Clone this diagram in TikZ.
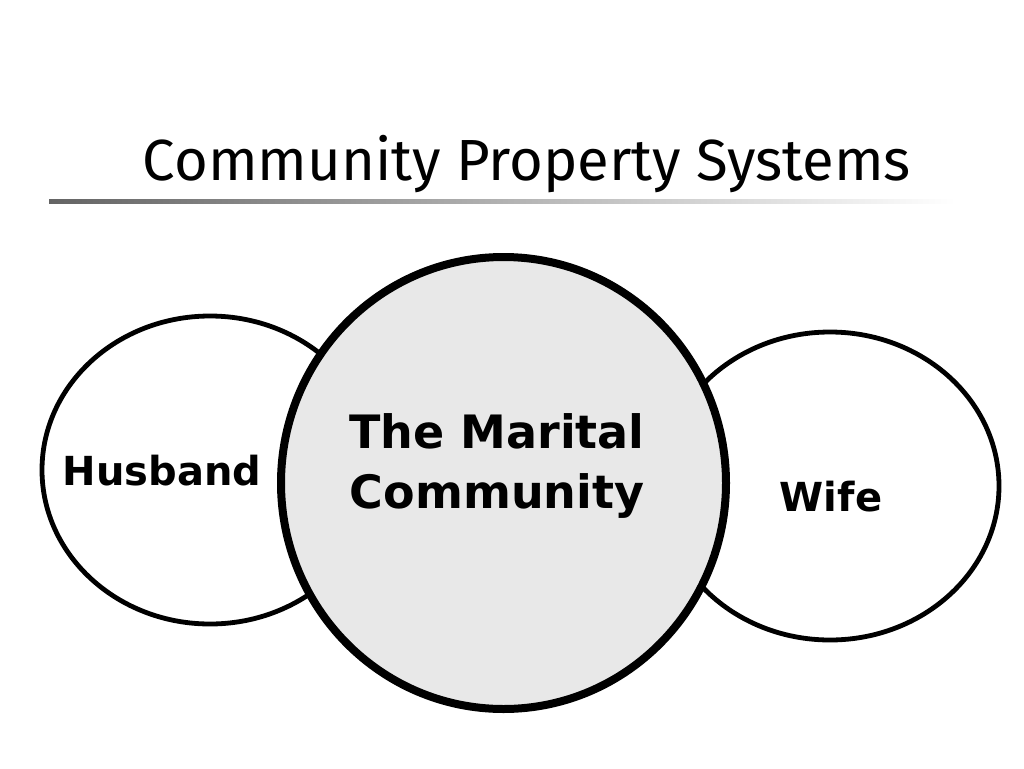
\documentclass[tikz,border=0pt]{standalone}
\usepackage{fontspec}
\setmainfont{DejaVu Sans}
\newfontfamily\titlefont{Fira Sans}
\usetikzlibrary{shapes.geometric}
\definecolor{fillgray}{RGB}{232,232,232}
\definecolor{rulegray}{RGB}{100,100,100}
\begin{document}
\begin{tikzpicture}[x=1pt,y=-1pt,
  side/.style={draw=black,line width=4.8pt,fill=white,ellipse,inner sep=0pt},
  lbl/.style={font=\bfseries\fontsize{40}{48}\selectfont,align=center}]
\useasboundingbox[fill=white] (0,0) rectangle (1024,768);
\node[font=\titlefont\fontsize{58}{66}\selectfont,anchor=base] (title) at (527,180) {Community Property Systems};
\shade[left color=rulegray,right color=white] (49,199) rectangle (955,203);
\node[side,minimum width=336pt,minimum height=308pt] (husband) at (210,470) {};
\node[side,minimum width=338pt,minimum height=308pt] (wife) at (830,486) {};
\node[draw=black,line width=8pt,fill=fillgray,ellipse,inner sep=0pt,minimum width=445pt,minimum height=452pt] (community) at (503.5,483) {};
\node[lbl,anchor=base] (hlabel) at (162,485) {Husband};
\node[lbl,anchor=base] (wlabel) at (831,511) {Wife};
\node[lbl,font=\bfseries\fontsize{46}{60}\selectfont,anchor=base] (clabel1) at (497,448) {The Marital};
\node[lbl,font=\bfseries\fontsize{46}{60}\selectfont,anchor=base] (clabel2) at (497,508) {Community};
\end{tikzpicture}
\end{document}
